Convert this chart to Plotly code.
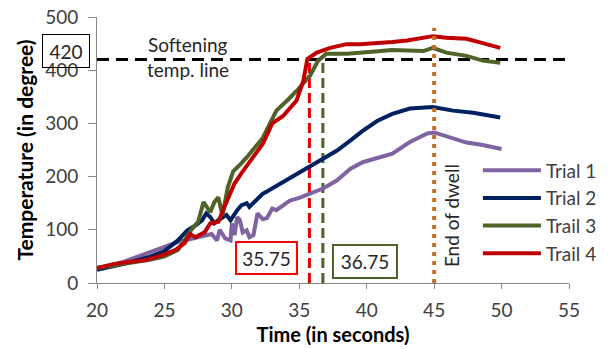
import plotly.graph_objects as go

# ---- data ----
t1 = [20, 21, 22, 23, 24, 25, 26, 27, 28, 28.5, 28.9, 29.1, 29.5, 29.9, 30.0, 30.2, 30.4, 30.6, 30.8,
      31.1, 31.3, 31.6, 31.9, 32.1, 32.3, 32.6, 33.0, 33.3, 34.3, 35.0, 35.8, 36.8, 37.8, 38.8, 39.7,
      41.0, 41.9, 43.2, 44.5, 45.0, 46.2, 47.4, 48.5, 50]
T1 = [28, 33, 40, 50, 60, 68, 77, 83, 88, 92, 80, 100, 84, 80, 112, 90, 124, 118, 95,
      99, 86, 90, 131, 124, 120, 122, 140, 137, 155, 160, 168, 178, 193, 215, 227,
      236, 243, 265, 281, 283, 273, 264, 260, 252]

t2 = [20, 21, 22, 23, 24, 25, 26, 26.7, 27.3, 27.8, 28.1, 28.4, 28.7, 29.0, 29.3, 29.6, 29.9, 30.2,
      30.4, 30.7, 31.1, 31.3, 32.3, 32.6, 33.6, 34.8, 35.6, 36.8, 37.8, 38.8, 39.7, 40.8, 41.9, 43.2,
      44.9, 46.4, 47.9, 49.9]
T2 = [25, 30, 36, 43, 50, 60, 80, 99, 108, 118, 131, 124, 112, 118, 124, 128, 118, 131,
      137, 146, 150, 143, 168, 172, 187, 206, 217, 234, 249, 268, 286, 305, 318, 328,
      331, 324, 320, 311]

t3 = [20, 21, 22, 23, 24, 25, 26, 26.5, 27.0, 27.5, 27.9, 28.4, 28.7, 29.0, 29.3, 29.7, 30.1, 30.7,
      31.1, 32.3, 33.3, 34.1, 34.8, 35.8, 36.4, 37.0, 38.5, 39.5, 41.0, 41.9, 43.0, 44.2, 44.9, 45.9,
      47.4, 48.6, 49.9]
T3 = [28, 32, 36, 40, 44, 50, 62, 80, 100, 115, 152, 133, 152, 161, 127, 180, 210, 225,
      236, 273, 324, 343, 361, 390, 418, 431, 431, 433, 436, 438, 437, 436, 442, 433,
      427, 418, 414]

t4 = [20, 21.3, 22.5, 23.6, 24.8, 25.8, 26.5, 26.9, 27.3, 28.0, 28.4, 29.0, 29.5, 30.2, 30.7, 31.5,
      32.3, 33.0, 33.8, 34.8, 35.3, 35.6, 36.3, 37.3, 38.5, 39.5, 41.0, 41.9, 43.0, 43.9, 44.9, 45.9,
      47.4, 48.6, 49.9]
T4 = [28, 36, 40, 43, 52, 62, 75, 92, 86, 96, 112, 115, 146, 187, 206, 235,
      262, 300, 314, 343, 380, 421, 433, 442, 449, 449, 451, 453, 456, 459, 464, 461,
      459, 451, 442]

names = ["Trial 1", "Trial 2", "Trail 3", "Trail 4"]
colors = ["#8064A2", "#002060", "#4F6228", "#C00000"]

soften_temp = 420
cross_t4 = 35.75
cross_t3 = 36.75
dwell_end = 45
dwell_top = 480

x_ticks = [20, 25, 30, 35, 40, 45, 50, 55]
y_ticks = [0, 100, 200, 300, 400, 500]

FONT = "Lato, Carlito, Calibri, sans-serif"
TXT = "#404040"
AX = "#868686"

fig = go.Figure()
for t, T, n, c in zip([t1, t2, t3, t4], [T1, T2, T3, T4], names, colors):
    fig.add_trace(go.Scatter(x=t, y=T, name=n, mode="lines",
                             line=dict(color=c, width=4)))

# reference lines
fig.add_shape(type="line", xref="x", yref="y", x0=x_ticks[0], x1=x_ticks[-1],
              y0=soften_temp, y1=soften_temp, layer="below",
              line=dict(color="black", width=3, dash="12px,7px"))
fig.add_shape(type="line", xref="x", yref="y", x0=cross_t4, x1=cross_t4,
              y0=0, y1=soften_temp, layer="below",
              line=dict(color="#E00000", width=3, dash="10px,5px"))
fig.add_shape(type="line", xref="x", yref="y", x0=cross_t3, x1=cross_t3,
              y0=0, y1=soften_temp, layer="below",
              line=dict(color="#4F6228", width=3, dash="10px,5px"))
fig.add_shape(type="line", xref="x", yref="y", x0=dwell_end, x1=dwell_end,
              y0=0, y1=dwell_top, layer="above",
              line=dict(color="#C0702A", width=4, dash="4px,5px"))

ann_font = dict(family=FONT, size=19, color="#262626")
fig.add_annotation(xref="paper", yref="y", x=-0.0657, y=436, text="420",
                   showarrow=False, font=dict(family=FONT, size=19, color="#262626"),
                   bordercolor="black", borderwidth=1, borderpad=0,
                   width=46, height=32, xanchor="center", yanchor="middle")
fig.add_annotation(xref="x", yref="y", x=26.75, y=449, text="Softening",
                   showarrow=False, font=ann_font)
fig.add_annotation(xref="x", yref="y", x=26.75, y=401, text="temp. line",
                   showarrow=False, font=ann_font)
fig.add_annotation(xref="x", yref="y", x=32.56, y=47, text=f"{cross_t4:.2f}",
                   showarrow=False, font=dict(family=FONT, size=19, color="#262626"),
                   bordercolor="#FF0000", borderwidth=2, borderpad=0, width=59, height=30)
fig.add_annotation(xref="x", yref="y", x=39.87, y=40, text=f"{cross_t3:.2f}",
                   showarrow=False, font=dict(family=FONT, size=19, color="#262626"),
                   bordercolor="#4F6228", borderwidth=2, borderpad=0, width=62, height=31)
fig.add_annotation(xref="x", yref="y", x=46.3, y=127, text="End of dwell",
                   showarrow=False, textangle=-90, font=ann_font)

fig.update_layout(
    width=609, height=349,
    margin=dict(l=89, r=48, t=9, b=74),
    paper_bgcolor="white", plot_bgcolor="white",
    font=dict(family=FONT, color=TXT, size=18),
    legend=dict(x=0.807, y=0.495, xanchor="left", yanchor="top",
                bgcolor="rgba(0,0,0,0)", itemwidth=58,
                font=dict(family=FONT, size=19, color=TXT),
                tracegroupgap=0),
    xaxis=dict(range=[20, 55], tickvals=x_ticks, showgrid=False, zeroline=False,
               showline=True, linecolor=AX, linewidth=1, ticks="outside", automargin=False,
               ticklen=5, tickcolor=AX, tickfont=dict(family=FONT, size=19, color=TXT),
               ticklabelstandoff=5, ticklabeloverflow="allow",
               title=dict(text="<b>Time (in seconds)</b>",
                          font=dict(family=FONT, size=20, color="black"), standoff=8)),
    yaxis=dict(range=[0, 500], tickvals=y_ticks, showgrid=False, zeroline=False,
               showline=True, linecolor=AX, linewidth=1, ticks="outside", automargin=False,
               ticklen=8, tickcolor=AX, tickfont=dict(family=FONT, size=19, color=TXT),
               ticklabelstandoff=6, ticklabeloverflow="allow",
               title=dict(text="<b>Temperature (in degree)</b>",
                          font=dict(family=FONT, size=21, color="black"), standoff=5)),
)

fig.write_html("out.html")
